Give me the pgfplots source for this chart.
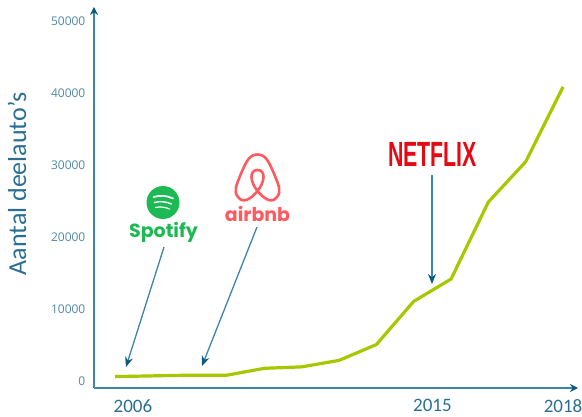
\documentclass[border=0pt]{standalone}
\usepackage{pgfplots}
\usepackage{graphicx}
\usepackage{fontspec}
\setmainfont{Carlito}
\newfontfamily\ticksf{Open Sans}
\newfontfamily\popp{Poppins}
\newfontfamily\nflx{Liberation Sans}
\pgfplotsset{compat=1.18}
\usetikzlibrary{arrows.meta}
\definecolor{axiscol}{HTML}{3D86A8}
\definecolor{headcol}{HTML}{0B5A80}
\definecolor{tickcol}{HTML}{4F88A6}
\definecolor{labcol}{HTML}{2A6F93}
\definecolor{linecol}{HTML}{A9C700}
\definecolor{spot}{HTML}{1DB954}
\definecolor{abnb}{HTML}{FF5A5F}
\definecolor{netf}{HTML}{E50914}
\begin{document}
\begin{tikzpicture}[x=1pt,y=-1pt]
\path[use as bounding box] (0,0) rectangle (582,417);
\begin{axis}[
  at={(94pt,-388pt)},anchor=south west,
  scale only axis,width=484pt,height=381pt,
  xmin=2005.4375,xmax=2018.4,ymin=-833,ymax=52083,
  axis x line=bottom,axis y line=left,
  axis line style={axiscol,line width=1.3pt,-{Stealth[length=8pt,width=8pt,color=headcol]}},
  tick style={draw=none},
  scaled y ticks=false,
  xtick={2006.48,2014.5,2018},
  xticklabels={\raisebox{4.5pt}{2006},2015,2018},
  ytick={0,10000,20000,30000,40000,50000},
  yticklabel style={font=\ticksf\fontsize{12}{14}\selectfont,text=tickcol,
    /pgf/number format/1000 sep={},/pgf/number format/fixed,/pgf/number format/assume math mode=true,xshift=-3pt,yshift=0.7pt},
  xticklabel style={font=\fontsize{19}{22}\selectfont,text=labcol,yshift=-6pt,
    /pgf/number format/assume math mode=true},
]
\addplot[linecol,line width=3.2pt,line join=round] coordinates {
(2006,750)(2007,850)(2008,950)(2009,950)(2010,1900)(2011,2100)(2012,3000)
(2013,5200)(2014,11200)(2015,14300)(2016,25000)(2017,30600)(2018,41000)};
\end{axis}
\node[rotate=90,text=labcol,font=\fontsize{26}{30}\selectfont] at (17,184) {Aantal deelauto's};
% arrows
\tikzset{ann/.style={axiscol,line width=1.3pt,-{Stealth[length=10pt,width=8pt,color=headcol]}}}
\draw[ann] (164,247) -- (126,367);
\draw[ann] (257,227) -- (202,366);
\draw[ann] (432,175) -- (432,284);
% Spotify
\fill[spot] (163,202.5) circle (16.5);
\draw[white,line width=1.7pt,line cap=round] (153.5,197) .. controls (160,195) and (167,195.5) .. (173,198.5);
\draw[white,line width=1.4pt,line cap=round] (154.5,202.5) .. controls (160,201) and (166,201.5) .. (171.5,204);
\draw[white,line width=1.2pt,line cap=round] (155.5,207.5) .. controls (160,206.5) and (165,207) .. (169.5,209);
\node[text=spot,font=\popp\bfseries\fontsize{19}{22}\selectfont] at (163.5,232) {Spotify};
% Airbnb
\draw[abnb,line width=2.6pt,line join=round]
 (257.5,191) .. controls (251,199) and (243,204) .. (238,197)
 .. controls (233,191) and (237,184) .. (240,176)
 .. controls (246,162) and (249,154.5) .. (257.5,154.5)
 .. controls (266,154.5) and (269,162) .. (275,176)
 .. controls (278,184) and (282,191) .. (277,197)
 .. controls (272,204) and (264,199) .. (257.5,191)
 .. controls (250,182) and (249,170) .. (257.5,170)
 .. controls (266,170) and (265,182) .. (257.5,191) -- cycle;
\node[text=abnb,font=\popp\bfseries\fontsize{19}{24}\selectfont] at (257.5,214) {airbnb};
% Netflix
\node[text=netf,inner sep=0pt] at (432.5,154.5) {\scalebox{0.61}[1]{\nflx\bfseries\fontsize{35}{40}\selectfont NETFLIX}};
\end{tikzpicture}
\end{document}
